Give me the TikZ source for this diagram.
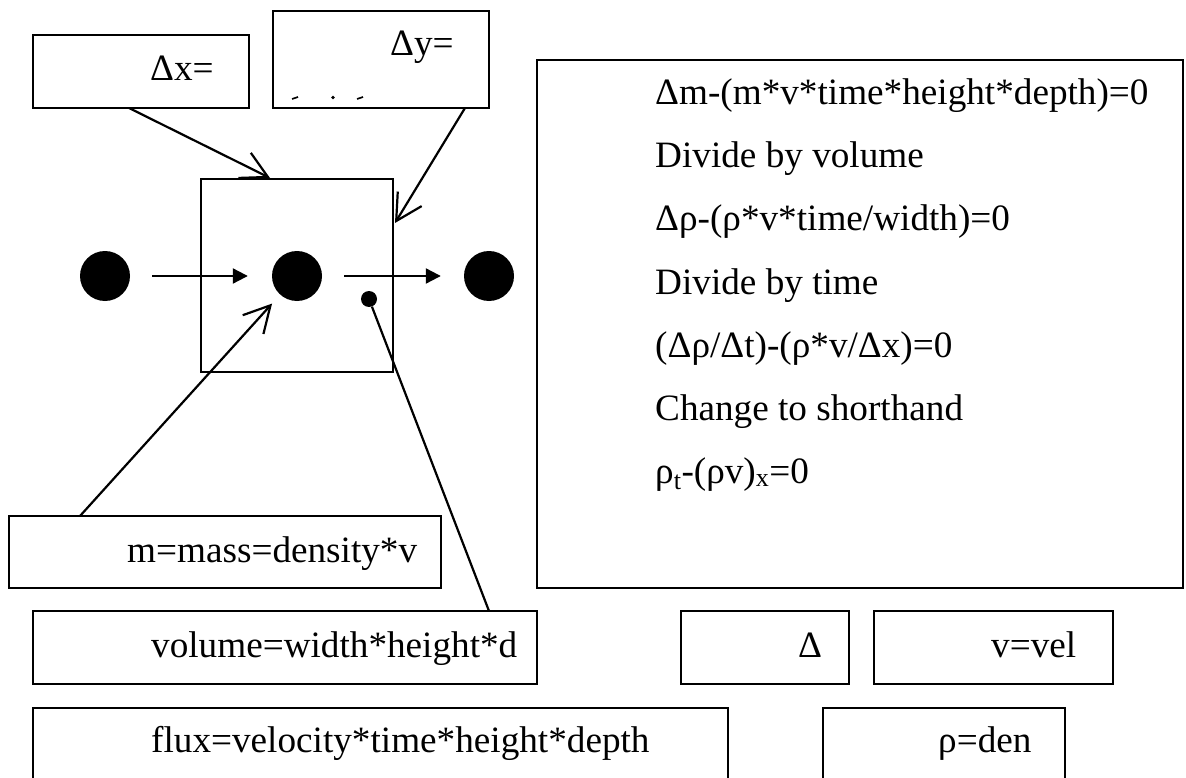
\documentclass[tikz,border=0pt]{standalone}
\usepackage{fontspec}
\setmainfont{Liberation Serif}
\usetikzlibrary{arrows.meta,calc}
\begin{document}
\begin{tikzpicture}[x=1pt,y=-1pt,
  box/.style={draw,line width=1.9pt,rectangle,inner sep=0pt,outer sep=0pt},
  txt/.style={anchor=base west,inner sep=0pt,font=\fontsize{37.2}{40}\selectfont},
  ball/.style={circle,fill=black,inner sep=0pt,minimum size=50pt},
  smallball/.style={circle,fill=black,inner sep=0pt,minimum size=16pt},
  barb/.style={-{Straight Barb[length=26pt,width=28pt,line width=2.2pt]},line width=2.2pt},
  flow/.style={-{Triangle[length=15pt,width=15pt]},line width=2.2pt},
  plain/.style={line width=2.2pt}
]
\clip (0,0) rectangle (1186,778);
% boxes
\node[box,minimum width=216pt,minimum height=73pt] (dxbox) at (141,71.5) {};
\node[box,minimum width=216pt,minimum height=97pt] (dybox) at (381,59.5) {};
\node[box,minimum width=192pt,minimum height=193pt] (mbox) at (297,275.5) {};
\node[box,minimum width=646pt,minimum height=528pt] (bigbox) at (860,324) {};
\node[box,minimum width=432pt,minimum height=72pt] (massbox) at (225,552) {};
\node[box,minimum width=504pt,minimum height=73pt] (volbox) at (285,647.5) {};
\node[box,minimum width=168pt,minimum height=73pt] (deltabox) at (765,647.5) {};
\node[box,minimum width=239pt,minimum height=73pt] (velbox) at (993.5,647.5) {};
\node[box,minimum width=695pt,minimum height=112pt] (fluxbox) at (380.5,764) {};
\node[box,minimum width=242pt,minimum height=112pt] (denbox) at (944,764) {};
% texts
\node[txt] (dxt) at (150,81) {Δx=};
\node[txt] (dyt) at (390,56) {Δy=};
\node[txt] (l1) at (655,105) {Δm-(m*v*time*height*depth)=0};
\node[txt] (l2) at (655,168) {Divide by volume};
\node[txt] (l3) at (655,231) {Δρ-(ρ*v*time/width)=0};
\node[txt] (l4) at (655,294) {Divide by time};
\node[txt] (l5) at (655,357) {(Δρ/Δt)-(ρ*v/Δx)=0};
\node[txt] (l6) at (655,420) {Change to shorthand};
\node[txt] (l7) at (655,483) {ρ\textsubscript{t}-(ρv)\textsubscript{x}=0};
\node[txt] (masst) at (127,562) {m=mass=density*v};
\node[txt] (volt) at (151,657) {volume=width*height*d};
\node[txt] (deltat) at (798,657) {Δ};
\node[txt] (velt) at (991,657) {v=vel};
\node[txt] (fluxt) at (151,752) {flux=velocity*time*height*depth};
\node[txt] (dent) at (938,752) {ρ=den};
% clipped fragments in the Δy box
\draw[line width=1.6pt] (292,99) -- (298,97);
\fill (333,97.5) circle (1.9);
\draw[line width=1.6pt] (357,99) -- (363,97);
% balls
\node[ball] (c1) at (105,276) {};
\node[ball] (c2) at (297,276) {};
\node[ball] (c3) at (489,276) {};
\node[smallball] (sd) at (369,299) {};
% connectors
\draw[flow,shorten <=22pt,shorten >=24pt] (c1) -- (c2);
\draw[flow,shorten <=22pt,shorten >=23pt] (c2) -- (c3);
\draw[barb] ($(dxbox.south west)+(96,0)$) -- ($(mbox.north west)+(69,-1)$);
\draw[barb] ($(dybox.south west)+(192,0)$) -- ($(mbox.north east)+(2,44)$);
\draw[barb,shorten >=12pt] ($(massbox.north west)+(71,0)$) -- (c2);
\draw[plain] (sd) -- ($(volbox.north west)+(456,0)$);
\end{tikzpicture}
\end{document}
